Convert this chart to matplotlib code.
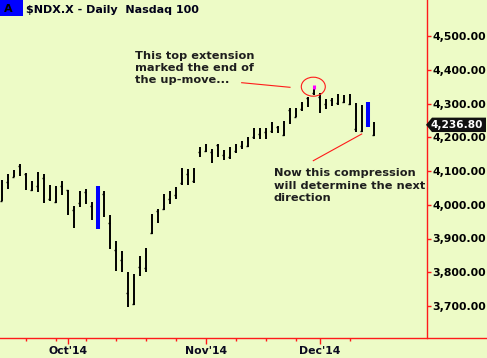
import matplotlib
matplotlib.use('Agg')
import matplotlib.pyplot as plt
import pandas as pd
from matplotlib.patches import Ellipse, Polygon, Rectangle
from matplotlib.lines import Line2D
from matplotlib.transforms import IdentityTransform

# ---------------- data ----------------
dates = pd.bdate_range('2014-09-16', '2014-12-12').drop(pd.Timestamp('2014-11-27'))

high_sep = [4073, 4090, 4103, 4120, 4093, 4070, 4097, 4090, 4058, 4055, 4070]
low_sep = [4011, 4048, 4081, 4085, 4045, 4042, 4039, 4006, 4012, 4006, 4029]
tick_sep = [4012, 4066, 4083, 4115, 4091, 4045, 4055, 4078, 4016, 4009, 4055]

high_oct = [4045, 3996, 4041, 4046, 4009, 4055, 4042, 3969, 3892, 3862, 3800, 3795,
            3848, 3871, 3973, 3987, 4031, 4042, 4052, 4108, 4107, 4108, 4171]
low_oct = [3970, 3932, 3994, 4002, 3955, 3928, 3964, 3869, 3804, 3800, 3698, 3703,
           3790, 3802, 3912, 3946, 3983, 4003, 4017, 4060, 4060, 4063, 4142]
tick_oct = [4043, 3984, 4005, 4038, 3997, 4050, 4031, 3946, 3865, 3835, 3738, 3706,
            3815, 3812, 3916, 3981, 3988, 4018, 4028, 4063, 4091, 4071, 4155]

high_nov = [4179, 4166, 4179, 4163, 4170, 4179, 4189, 4201, 4226, 4227, 4227, 4246,
            4234, 4248, 4286, 4286, 4304, 4320, 4343]
low_nov = [4157, 4125, 4141, 4134, 4136, 4152, 4164, 4172, 4195, 4195, 4195, 4214,
           4214, 4204, 4239, 4259, 4279, 4291, 4325]
tick_nov = [4160, 4155, 4177, 4148, 4142, 4160, 4174, 4174, 4200, 4210, 4215, 4218,
            4231, 4207, 4282, 4261, 4283, 4317, 4330]

high_dec = [4332, 4312, 4317, 4328, 4325, 4328, 4301, 4296, 4305, 4246]
low_dec = [4271, 4283, 4293, 4295, 4301, 4296, 4216, 4215, 4231, 4204]
tick_dec = [4320, 4299, 4310, 4302, 4305, 4300, 4224, 4218, 4250, 4207]

high = high_sep + high_oct + high_nov + high_dec
low = low_sep + low_oct + low_nov + low_dec
tick = tick_sep + tick_oct + tick_nov + tick_dec

highlight_dates = ['2014-10-08', '2014-12-11']
extension_date = '2014-11-28'
extension_range = (4343, 4354)
last_close = 4236.80

y_ticks = [3700, 3800, 3900, 4000, 4100, 4200, 4300, 4400, 4500]
month_ticks = ['2014-10-01', '2014-11-03', '2014-12-01']
month_labels = ["Oct'14", "Nov'14", "Dec'14"]

title = "$NDX.X - Daily  Nasdaq 100"
note1 = "This top extension\nmarked the end of\nthe up-move..."
note2 = "Now this compression\nwill determine the next\ndirection"

# ---------------- figure ----------------
W, H = 487, 358
BG = '#edfbc6'
RED = '#ff1a1a'
fig = plt.figure(figsize=(W / 100, H / 100), dpi=100, facecolor=BG)
plt.rcParams['font.family'] = ['DejaVu Sans']

ax = fig.add_axes([0, (H - 338) / H, 427 / W, 338 / H])
ax.set_facecolor(BG)

idx = list(range(len(dates)))
date_pos = {d.strftime('%Y-%m-%d'): i for i, d in enumerate(dates)}
hl = set(date_pos[d] for d in highlight_dates)

for i in idx:
    if i in hl:
        ax.vlines(i, low[i], high[i], color='#0000ff', lw=2.9, zorder=3)
    else:
        ax.vlines(i, low[i], high[i], color='black', lw=1.4, zorder=3)
        ax.hlines(tick[i], i - 0.34, i, color='black', lw=1.0, zorder=3)

ie = date_pos[extension_date]
ax.vlines(ie, extension_range[0], extension_range[1], color='#ff00ff', lw=2.2, zorder=4)

ax.set_xlim(-1.7 / 6, -1.7 / 6 + 427 / 6)
ax.set_ylim(4500 - 302 / 0.3375, 4500 + 36 / 0.3375)

for s in ['left', 'top', 'bottom']:
    ax.spines[s].set_visible(False)
ax.spines['right'].set_color(RED)
ax.spines['right'].set_linewidth(1.0)

ax.yaxis.tick_right()
ax.set_yticks(y_ticks)
ax.set_yticklabels([f"{v:,.2f}" for v in y_ticks], fontsize=7.8, fontweight='bold', color='black')
ax.tick_params(axis='y', direction='out', length=3.0, width=1.0, color=RED, pad=0.8)

major = [date_pos[d] for d in month_ticks]
mondays = [i for i, d in enumerate(dates) if d.weekday() == 0 and i not in major]
ax.set_xticks(major)
ax.set_xticklabels(month_labels, fontsize=7.8, fontweight='bold', color='#0a0a20')
ax.set_xticks(mondays, minor=True)
ax.tick_params(axis='x', which='major', direction='out', length=4.2, width=1.0, color=RED, pad=1.5)
ax.tick_params(axis='x', which='minor', direction='out', length=1.8, width=1.0, color=RED)

# bottom red line spanning the whole width
fig.add_artist(Line2D([0, 1], [(H - 338) / H] * 2, transform=fig.transFigure, color=RED, lw=1.0))

fig.canvas.draw()
ident = IdentityTransform()

def P(x, y):
    return (x, H - y)

# price label
yp = ax.transData.transform((0, last_close))[1]
ypx = H - yp
poly = Polygon([P(426, ypx), P(432, ypx - 7.2), P(486, ypx - 7.2), P(486, ypx + 7.2), P(432, ypx + 7.2)],
               closed=True, transform=ident, facecolor='#111111', edgecolor='none', zorder=10)
fig.add_artist(poly)
fig.text(457 / W, yp / H, f"{last_close:,.2f}", color='white', fontsize=7.6, fontweight='bold',
         ha='center', va='center', zorder=11)

# title
fig.add_artist(Rectangle(P(0, 15.7), 23, 15.7, transform=ident, facecolor='#0000ff', edgecolor='none'))
fig.text(8.5 / W, (H - 8.5) / H, "A", fontsize=8, fontweight='bold', color='black', ha='center', va='center')
fig.text(26 / W, (H - 10.3) / H, title, fontsize=8, fontweight='bold', color='#000018', ha='left', va='center')

# annotations
fig.text(135 / W, (H - 51) / H, note1, fontsize=8.2, fontweight='bold', color='#1e1e1e',
         ha='left', va='top', linespacing=1.28)
fig.text(274 / W, (H - 168.5) / H, note2, fontsize=8.2, fontweight='bold', color='#1e1e1e',
         ha='left', va='top', linespacing=1.3)

fig.add_artist(Line2D([241.7, 290], [H - 82.7, H - 87.3], transform=ident, color=RED, lw=0.8))
fig.add_artist(Line2D([313.3, 361.7], [H - 160.7, H - 134], transform=ident, color=RED, lw=0.8))
fig.add_artist(Ellipse(P(313.3, 86.7), 24, 19, transform=ident, facecolor='none', edgecolor=RED, lw=0.8))

fig.savefig('out.png', dpi=100, facecolor=BG)
